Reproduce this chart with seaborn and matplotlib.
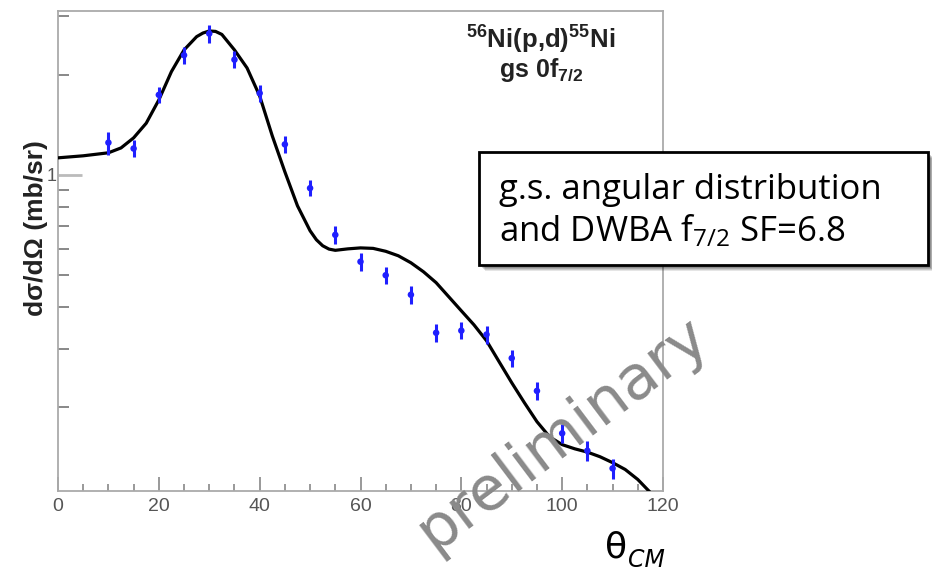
import numpy as np
import pandas as pd
import matplotlib
matplotlib.use("Agg")
import matplotlib.pyplot as plt
import matplotlib.ticker as mticker
from matplotlib.patches import Rectangle
import seaborn as sns

# ---------------- data ----------------
theta_data = [10, 15, 20, 25, 30, 35, 40, 45, 50, 55, 60, 65, 70, 75, 80, 85, 90, 95, 100, 105, 110]
xsec_data = [1.25, 1.20, 1.74, 2.29, 2.66, 2.22, 1.76, 1.235, 0.912, 0.660, 0.548, 0.499, 0.436,
             0.335, 0.340, 0.331, 0.281, 0.224, 0.167, 0.148, 0.131]
xsec_err = [0.10, 0.07, 0.10, 0.13, 0.16, 0.13, 0.10, 0.07, 0.05, 0.04, 0.033, 0.03, 0.026,
            0.02, 0.02, 0.02, 0.017, 0.014, 0.011, 0.010, 0.009]

theta_dwba = [0, 5, 10, 12.5, 15, 17.5, 20, 22.5, 25, 27.5, 28.75, 30, 31.25, 32.5, 35, 37.5, 40,
              42.5, 45, 47.5, 50, 51.25, 52.5, 53.75, 55, 57.5, 60, 62.5, 65, 67.5, 70, 72.5, 75,
              77.5, 80, 82.5, 85, 87.5, 90, 92.5, 95, 97.5, 100, 102.5, 105, 107.5, 110, 112.5,
              115, 117.5]
xsec_dwba = [1.125, 1.141, 1.165, 1.205, 1.292, 1.43, 1.680, 2.044, 2.375, 2.604, 2.670, 2.708,
             2.700, 2.644, 2.375, 2.096, 1.727, 1.310, 1.021, 0.807, 0.679, 0.638, 0.612, 0.598,
             0.593, 0.599, 0.603, 0.601, 0.589, 0.571, 0.544, 0.511, 0.474, 0.430, 0.390, 0.354,
             0.317, 0.274, 0.237, 0.2065, 0.181, 0.163, 0.1544, 0.150, 0.1466, 0.142, 0.1363,
             0.130, 0.1213, 0.1108]

x_major = [0, 20, 40, 60, 80, 100, 120]
y_major = [1]
y_minor = [0.2, 0.3, 0.4, 0.5, 0.6, 0.7, 0.8, 0.9, 2, 3]

# ---------------- figure ----------------
sns.set_theme(style="white")
plt.rcParams["font.family"] = ["Liberation Sans", "DejaVu Sans"]
plt.rcParams["mathtext.fontset"] = "custom"
plt.rcParams["mathtext.rm"] = "Open Sans"
plt.rcParams["mathtext.it"] = "Open Sans:italic"
plt.rcParams["mathtext.bf"] = "Liberation Sans:bold"

fig = plt.figure(figsize=(9.32, 5.71), dpi=100)
ax = fig.add_axes([58 / 932, 1 - 491 / 571, 605 / 932, 480 / 571])

dfc = pd.DataFrame({"theta": theta_dwba, "xs": xsec_dwba})
sns.lineplot(data=dfc, x="theta", y="xs", ax=ax, color="black", lw=2.3, sort=False, zorder=3)

dfp = pd.DataFrame({"theta": theta_data, "xs": xsec_data, "err": xsec_err})
ax.errorbar(dfp["theta"], dfp["xs"], yerr=dfp["err"], fmt="none", ecolor="#1f1fff",
            elinewidth=2.2, capsize=0, zorder=4)
sns.scatterplot(data=dfp, x="theta", y="xs", ax=ax, color="#1f1fff", s=22, edgecolor="none", zorder=5)

ax.set_yscale("log")
ax.set_xlim(0, 120)
ax.set_ylim(0.112, 3.11)
ax.set_xlabel("")
ax.set_ylabel("")

ax.xaxis.set_major_locator(mticker.FixedLocator(x_major))
ax.xaxis.set_minor_locator(mticker.MultipleLocator(5))
ax.yaxis.set_major_locator(mticker.FixedLocator(y_major))
ax.yaxis.set_minor_locator(mticker.FixedLocator(y_minor))
ax.yaxis.set_major_formatter(mticker.FixedFormatter(["1"]))
ax.yaxis.set_minor_formatter(mticker.NullFormatter())

ax.tick_params(axis="x", which="major", direction="in", length=10, width=1.2, color="#888888",
               labelsize=14, labelcolor="#555555", pad=5, bottom=True, top=False)
ax.tick_params(axis="x", which="minor", direction="in", length=5, width=1.2, color="#888888",
               bottom=True, top=False)
ax.tick_params(axis="y", which="major", direction="in", length=17, width=2, color="#bbbbbb",
               labelsize=13, labelcolor="#555555", pad=1, left=True, right=False)
ax.tick_params(axis="y", which="minor", direction="in", length=8, width=1.4, color="#888888",
               left=True, right=False)
for s in ax.spines.values():
    s.set_color("#aaaaaa")
    s.set_linewidth(1.3)

# y label
fig.text(36 / 932, 1 - 228 / 571, "dσ/dΩ (mb/sr)", rotation=90, ha="center", va="center",
         fontsize=19, fontweight="bold", color="#222222")

# reaction label
fig.text(541 / 932, 1 - 40 / 571, r"$^{\mathbf{56}}$Ni(p,d)$^{\mathbf{55}}$Ni", ha="center", va="center",
         fontsize=18.5, fontweight="bold", color="#222222")
fig.text(541 / 932, 1 - 70 / 571, r"gs 0f$_{\mathbf{7/2}}$", ha="center", va="center",
         fontsize=18, fontweight="bold", color="#222222")

# annotation box with shadow
bx0, by0, bx1, by1 = 479, 152, 928, 265
for i, a in enumerate([0.10, 0.12, 0.14, 0.16]):
    off = 6 - i
    fig.patches.append(Rectangle(((bx0 + off) / 932, 1 - (by1 + off) / 571), (bx1 - bx0) / 932,
                                 (by1 - by0) / 571, transform=fig.transFigure, facecolor="black",
                                 edgecolor="none", alpha=a, zorder=5))
fig.patches.append(Rectangle((bx0 / 932, 1 - by1 / 571), (bx1 - bx0) / 932, (by1 - by0) / 571,
                             transform=fig.transFigure, facecolor="white", edgecolor="black",
                             linewidth=2, zorder=6))
fig.text(499 / 932, 1 - 190 / 571, "g.s. angular distribution", ha="left", va="center",
         fontsize=25, family="Open Sans", color="black", zorder=7)
fig.text(499 / 932, 1 - 231 / 571, r"and DWBA f$_{7/2}$ SF=6.8", ha="left", va="center",
         fontsize=25, family="Open Sans", color="black", zorder=7)

# x axis label
fig.text(605 / 932, 1 - 548 / 571, "θ", ha="left", va="center", fontsize=26, family="DejaVu Sans",
         color="black")
fig.text(628 / 932, 1 - 560 / 571, "CM", ha="left", va="center", fontsize=17, family="DejaVu Sans",
         style="italic", color="black")

# watermark
fig.text(563 / 932, 1 - 434 / 571, "preliminary", rotation=37, ha="center", va="center",
         rotation_mode="anchor", fontsize=44, family="DejaVu Sans", color="#8a8a8a", zorder=8)

fig.savefig("out.png", dpi=100)
